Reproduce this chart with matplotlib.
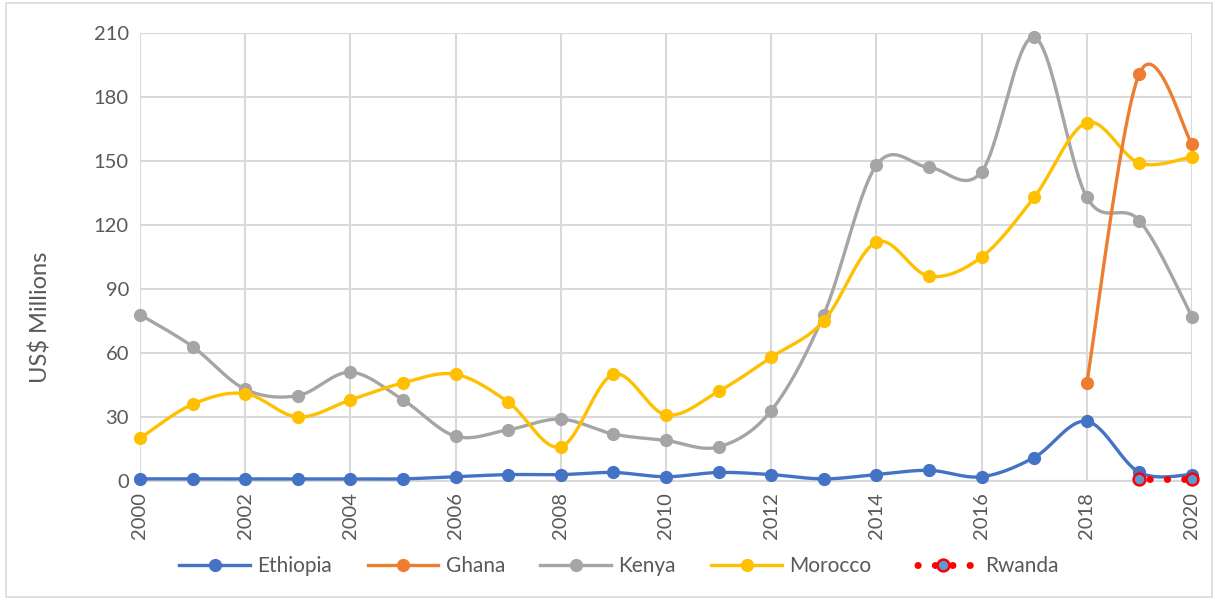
import numpy as np
import matplotlib
matplotlib.use("Agg")
import matplotlib.pyplot as plt
from matplotlib.lines import Line2D
from matplotlib.patches import Rectangle

plt.rcParams['font.family'] = ['Lato', 'DejaVu Sans']

years = list(range(2000, 2021))
ethiopia = [1, 1, 1, 1, 1, 1, 2, 3, 3, 4, 2, 4, 3, 1, 3, 5, 2, 11, 28, 4, 3]
ghana_years = [2018, 2019, 2020]
ghana = [46, 191, 158]
kenya = [78, 63, 43, 40, 51, 38, 21, 24, 29, 22, 19, 16, 33, 78, 148, 147, 145, 208, 133, 122, 77]
morocco = [20, 36, 41, 30, 38, 46, 50, 37, 16, 50, 31, 42, 58, 75, 112, 96, 105, 133, 168, 149, 152]
rwanda_years = [2019, 2020]
rwanda = [1, 1]

y_ticks = [0, 30, 60, 90, 120, 150, 180, 210]
x_ticks = list(range(2000, 2021, 2))

C_ETH = '#4472C4'
C_GHA = '#ED7D31'
C_KEN = '#A5A5A5'
C_MOR = '#FFC000'
C_RWA = '#FF0000'
C_RWA_FILL = '#5B9BD5'
GRID = '#D9D9D9'
TXT = '#595959'


def smooth(xs, ys, n=30):
    """Spreadsheet-style smoothed line: cubic Bezier through every point."""
    p = np.column_stack([xs, ys]).astype(float)
    if len(p) < 3:
        return p[:, 0], p[:, 1]
    out = [p[0]]
    m = len(p)
    for i in range(m - 1):
        a = p[i - 1] if i > 0 else p[i]
        b = p[i]
        c = p[i + 1]
        d = p[i + 2] if i + 2 < m else p[i + 1]
        c1 = b + (c - a) / 6.0
        c2 = c - (d - b) / 6.0
        t = np.linspace(0, 1, n)[1:, None]
        seg = ((1 - t) ** 3) * b + 3 * ((1 - t) ** 2) * t * c1 + 3 * (1 - t) * t ** 2 * c2 + t ** 3 * c
        out.extend(seg)
    out = np.array(out)
    return out[:, 0], out[:, 1]


fig = plt.figure(figsize=(12.15, 6.0), dpi=100)
ax = fig.add_axes([140 / 1215, 1 - 481 / 600, (1192 - 140) / 1215, (481 - 33) / 600])

lw = 2.4
ms = 8.5
dot_lw = 5.0
dots = (1.0, (0.05, 2.45))

for xs, ys, col, z in [(years, kenya, C_KEN, 3), (years, morocco, C_MOR, 4),
                       (ghana_years, ghana, C_GHA, 5), (years, ethiopia, C_ETH, 6)]:
    sx, sy = smooth(xs, ys)
    ax.plot(sx, sy, color=col, lw=lw, zorder=z, clip_on=False, solid_capstyle='round')
    ax.plot(xs, ys, 'o', color=col, ms=ms, zorder=z, clip_on=False)

ax.plot(rwanda_years, rwanda, color=C_RWA, lw=dot_lw, linestyle=dots,
        dash_capstyle='round', zorder=7, clip_on=False)
ax.plot(rwanda_years, rwanda, 'o', ms=ms, markerfacecolor=C_RWA_FILL,
        markeredgecolor=C_RWA, markeredgewidth=1.8, zorder=8, clip_on=False)

ax.set_xlim(2000, 2020)
ax.set_ylim(0, 210)
ax.set_xticks(x_ticks)
ax.set_xticklabels([str(v) for v in x_ticks], rotation=90, fontsize=14.5, color=TXT)
ax.set_yticks(y_ticks)
ax.set_yticklabels([str(v) for v in y_ticks], fontsize=14.5, color=TXT)
ax.tick_params(axis='both', length=0, pad=8)
ax.grid(True, color=GRID, lw=1.5)
ax.set_axisbelow(True)
for s in ['top', 'right', 'left']:
    ax.spines[s].set_visible(False)
ax.spines['bottom'].set_color(GRID)
ax.spines['bottom'].set_linewidth(1.5)
ax.set_ylabel('US$ Millions', fontsize=17, color=TXT)
ax.yaxis.set_label_coords((52 - 140) / 1052, (481 - 317) / 448)

handles = [
    Line2D([], [], color=C_ETH, lw=lw, marker='o', ms=ms),
    Line2D([], [], color=C_GHA, lw=lw, marker='o', ms=ms),
    Line2D([], [], color=C_KEN, lw=lw, marker='o', ms=ms),
    Line2D([], [], color=C_MOR, lw=lw, marker='o', ms=ms),
    Line2D([], [], color=C_RWA, lw=dot_lw, linestyle=dots, dash_capstyle='round',
           marker='o', ms=ms, markerfacecolor=C_RWA_FILL, markeredgecolor=C_RWA, markeredgewidth=1.8),
]
labels = ['Ethiopia', 'Ghana', 'Kenya', 'Morocco', 'Rwanda']
leg = fig.legend(handles, labels, loc='center', bbox_to_anchor=(619 / 1215, 1 - 566 / 600), ncol=5,
                 frameon=False, fontsize=15, handlelength=3.4, columnspacing=1.7, handletextpad=0.35)
for t in leg.get_texts():
    t.set_color(TXT)

fig.patches.append(Rectangle((6 / 1215, 3 / 600), 1206 / 1215, 594 / 600, transform=fig.transFigure,
                             fill=False, edgecolor=GRID, lw=1.2))

fig.savefig('out.png', dpi=100, facecolor='white')
